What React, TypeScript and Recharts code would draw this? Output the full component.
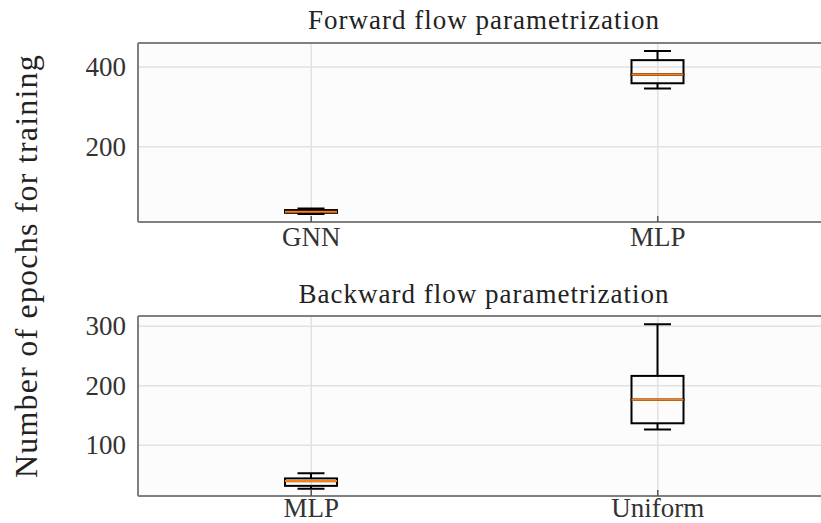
import React from 'react';
import { ComposedChart, Bar, XAxis, YAxis, CartesianGrid, ReferenceLine } from 'recharts';

const forwardCategories = ['GNN', 'MLP'];
const forwardMin = [31, 346];
const forwardQ1 = [34, 359];
const forwardMedian = [37, 381];
const forwardQ3 = [41, 417];
const forwardMax = [45, 440];
const forwardTicks = [200, 400];
const forwardDomain = [11, 460];

// backward flow panel
const backwardCategories = ['MLP', 'Uniform'];
const backwardMin = [27, 126.5];
const backwardQ1 = [32, 137];
const backwardMedian = [40, 176.5];
const backwardQ3 = [44.5, 216.5];
const backwardMax = [53, 303];
const backwardTicks = [100, 200, 300];
const backwardDomain = [15, 317];

const FONT = 'Liberation Serif, serif';
const TEXT = '#333333';
const FRAME = '#808080';
const GRID = '#e2e2e2';
const BOX_W = 52;
const CAP_W = 27;

const buildRows = (cats: string[], mn: number[], q1: number[], med: number[], q3: number[], mx: number[]) =>
  cats.map((name, i) => ({
    name,
    base: mn[i],
    lowWhisker: q1[i] - mn[i],
    lowBox: med[i] - q1[i],
    highBox: q3[i] - med[i],
    highWhisker: mx[i] - q3[i],
  }));

const forwardRows = buildRows(forwardCategories, forwardMin, forwardQ1, forwardMedian, forwardQ3, forwardMax);
const backwardRows = buildRows(backwardCategories, backwardMin, backwardQ1, backwardMedian, backwardQ3, backwardMax);

const Empty = () => <g />;

const LowWhisker = (p: any) => {
  const cx = p.x + p.width / 2;
  const bottom = p.y + p.height;
  return (
    <g>
      <line x1={cx} x2={cx} y1={p.y} y2={bottom} stroke="#000" strokeWidth={2} />
      <line x1={cx - CAP_W / 2} x2={cx + CAP_W / 2} y1={bottom} y2={bottom} stroke="#000" strokeWidth={2} />
    </g>
  );
};

const HighWhisker = (p: any) => {
  const cx = p.x + p.width / 2;
  return (
    <g>
      <line x1={cx} x2={cx} y1={p.y} y2={p.y + p.height} stroke="#000" strokeWidth={2} />
      <line x1={cx - CAP_W / 2} x2={cx + CAP_W / 2} y1={p.y} y2={p.y} stroke="#000" strokeWidth={2} />
    </g>
  );
};

const LowBox = (p: any) => (
  <rect x={p.x} y={p.y} width={p.width} height={p.height} fill="none" stroke="#000" strokeWidth={2} />
);

const HighBox = (p: any) => (
  <g>
    <rect x={p.x} y={p.y} width={p.width} height={p.height} fill="none" stroke="#000" strokeWidth={2} />
    <line x1={p.x} x2={p.x + p.width} y1={p.y + p.height} y2={p.y + p.height} stroke="#ff7f0e" strokeWidth={2} />
  </g>
);

const XTick = (p: any) => (
  <g>
    <line x1={p.x} x2={p.x} y1={p.y} y2={p.y - 6} stroke="#555" strokeWidth={1.5} />
    <text x={p.x} y={p.y + p.labelOffset} textAnchor="middle" fontFamily={FONT} fontSize={27} fill={TEXT}>
      {p.payload.value}
    </text>
  </g>
);

const YTick = (p: any) => (
  <text x={p.x - 12} y={p.y + 9} textAnchor="end" fontFamily={FONT} fontSize={27} fill={TEXT}>
    {p.payload.value}
  </text>
);

interface PanelProps {
  rows: ReturnType<typeof buildRows>;
  domain: number[];
  ticks: number[];
  height: number;
  top: number;
  bottom: number;
  xAxisHeight: number;
  labelOffset: number;
}

const BoxPanel: React.FC<PanelProps> = ({ rows, domain, ticks, height, top, bottom, xAxisHeight, labelOffset }) => (
  <ComposedChart width={840} height={height} data={rows} margin={{ top, right: 9, bottom, left: 0 }} style={{ fontFamily: FONT }}>
    <CartesianGrid fill="#fcfcfc" fillOpacity={1} stroke={GRID} strokeWidth={1.5} />
    <XAxis
      dataKey="name"
      height={xAxisHeight}
      tickSize={0}
      tickMargin={0}
      tickLine={false}
      tick={<XTick labelOffset={labelOffset} />}
      axisLine={{ stroke: FRAME, strokeWidth: 2 }}
      interval={0}
    />
    <YAxis
      type="number"
      domain={domain}
      ticks={ticks}
      allowDataOverflow
      width={138}
      tickSize={0}
      tickMargin={0}
      tickLine={false}
      tick={<YTick />}
      axisLine={{ stroke: FRAME, strokeWidth: 2 }}
    />
    <ReferenceLine y={domain[1]} stroke={FRAME} strokeWidth={2} />
    <Bar dataKey="base" stackId="b" barSize={BOX_W} shape={<Empty />} isAnimationActive={false} />
    <Bar dataKey="lowWhisker" stackId="b" barSize={BOX_W} shape={<LowWhisker />} isAnimationActive={false} />
    <Bar dataKey="lowBox" stackId="b" barSize={BOX_W} shape={<LowBox />} isAnimationActive={false} />
    <Bar dataKey="highBox" stackId="b" barSize={BOX_W} shape={<HighBox />} isAnimationActive={false} />
    <Bar dataKey="highWhisker" stackId="b" barSize={BOX_W} shape={<HighWhisker />} isAnimationActive={false} />
  </ComposedChart>
);

export default function App() {
  return (
    <div
      style={{
        position: 'absolute',
        left: 0,
        top: 0,
        width: 821,
        height: 523,
        overflow: 'hidden',
        background: '#ffffff',
        fontFamily: FONT,
      }}
    >
      <div style={{ position: 'absolute', left: 0, top: 0 }}>
        <BoxPanel rows={forwardRows} domain={forwardDomain} ticks={forwardTicks} height={262} top={43} bottom={12} xAxisHeight={28} labelOffset={24} />
      </div>
      <div style={{ position: 'absolute', left: 0, top: 270 }}>
        <BoxPanel rows={backwardRows} domain={backwardDomain} ticks={backwardTicks} height={253} top={46} bottom={0} xAxisHeight={27} labelOffset={21} />
      </div>
      <svg width={821} height={523} style={{ position: 'absolute', left: 0, top: 0, pointerEvents: 'none', fontFamily: FONT }}>
        <text x={484} y={29} textAnchor="middle" fontFamily={FONT} fontSize={27} letterSpacing={1} fill="#222">
          Forward flow parametrization
        </text>
        <text x={484} y={303} textAnchor="middle" fontFamily={FONT} fontSize={27} letterSpacing={1} fill="#222">
          Backward flow parametrization
        </text>
        <text
          x={0}
          y={0}
          transform="translate(37 266) rotate(-90)"
          textAnchor="middle"
          fontFamily={FONT}
          fontSize={32}
          letterSpacing={1.2}
          fill="#222"
        >
          Number of epochs for training
        </text>
      </svg>
    </div>
  );
}
